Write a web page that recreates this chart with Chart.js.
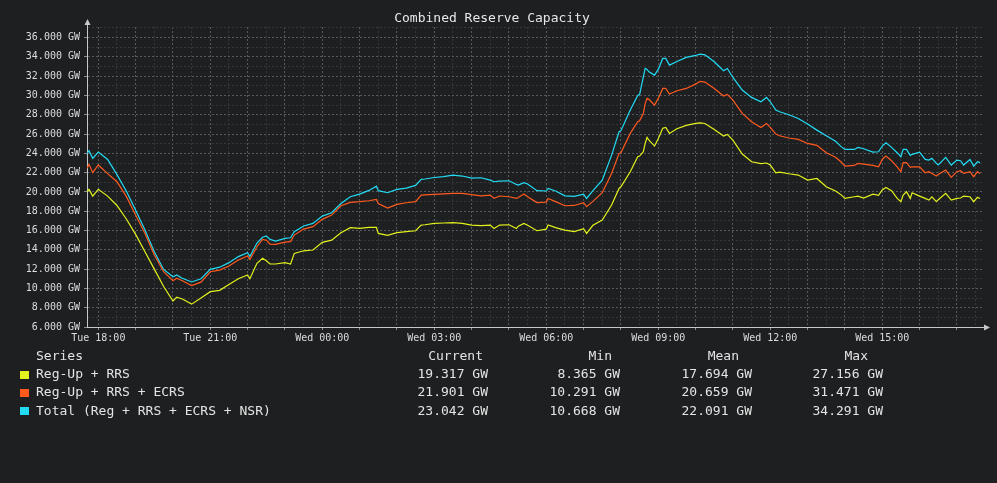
<!DOCTYPE html>
<html>
<head>
<meta charset="utf-8">
<title>Combined Reserve Capacity</title>
<script src="https://cdn.jsdelivr.net/npm/chart.js@4.4.1/dist/chart.umd.min.js"></script>
<style>
  html, body { margin: 0; padding: 0; background: #1e1f21; }
  #wrap { position: relative; width: 997px; height: 483px; overflow: hidden;
          font-family: "DejaVu Sans Mono", monospace; color: #e4e4e4; }
  #chart { position: absolute; left: 0; top: 0; }
  .cell { position: absolute; font-size: 13px; line-height: 18px; white-space: pre; }
  .swatch { position: absolute; width: 9px; height: 8px; }
</style>
</head>
<body>
<div id="wrap">
  <canvas id="chart" width="997" height="483"></canvas>
  <div id="legend"></div>
</div>
<script>
// hours after Tue 18:00
const hours = [
  -0.3, -0.25, -0.15, 0, 0.25, 0.5, 0.75, 1, 1.25, 1.5, 1.75, 2, 2.1, 2.25, 2.5, 2.75, 3, 3.25, 3.5, 3.75,
  4, 4.06, 4.25, 4.4, 4.5, 4.6, 4.75, 5, 5.15, 5.25, 5.5, 5.75, 6, 6.25, 6.5, 6.75, 7, 7.25, 7.45, 7.5,
  7.75, 8, 8.25, 8.5, 8.65, 8.75, 9, 9.25, 9.5, 9.75, 10, 10.25, 10.5, 10.6, 10.75, 11, 11.2, 11.25, 11.4, 11.5,
  11.75, 12, 12.05, 12.25, 12.5, 12.75, 13, 13.08, 13.25, 13.5, 13.75, 13.95, 14, 14.25, 14.45, 14.5, 14.6, 14.65, 14.7, 14.75,
  14.9, 15, 15.12, 15.2, 15.3, 15.5, 15.75, 16, 16.12, 16.25, 16.5, 16.75, 16.85, 17, 17.25, 17.5, 17.75, 17.9, 18, 18.15,
  18.25, 18.5, 18.75, 19, 19.25, 19.5, 19.75, 19.9, 20, 20.25, 20.35, 20.5, 20.75, 20.9, 21, 21.1, 21.25, 21.4, 21.5, 21.56,
  21.65, 21.75, 21.8, 22, 22.15, 22.25, 22.33, 22.45, 22.5, 22.7, 22.85, 23, 23.1, 23.18, 23.35, 23.45, 23.55, 23.62
];

// GW
const regUpRrs = [
  20.0, 20.27, 19.57, 20.27, 19.57, 18.6, 17.2, 15.6, 13.8, 12.0, 10.2, 8.7, 9.08, 8.9, 8.37, 9.0, 9.66, 9.8, 10.4, 11.0,
  11.39, 11.0, 12.6, 13.12, 12.87, 12.53, 12.53, 12.67, 12.53, 13.63, 13.9, 13.98, 14.77, 15.0, 15.78, 16.3, 16.22, 16.33, 16.33, 15.7,
  15.5, 15.78, 15.88, 15.98, 16.57, 16.6, 16.74, 16.78, 16.81, 16.74, 16.57, 16.5, 16.57, 16.22, 16.57, 16.6, 16.22, 16.45, 16.74, 16.55,
  15.98, 16.15, 16.57, 16.3, 16.05, 15.88, 16.19, 15.7, 16.54, 17.09, 18.64, 20.37, 20.54, 22.1, 23.65, 23.72, 24.17, 25.03, 25.65, 25.38,
  24.76, 25.52, 26.6, 26.69, 26.07, 26.55, 26.9, 27.1, 27.16, 27.1, 26.48, 25.79, 25.97, 25.38, 23.93, 23.13, 22.93, 23.0, 22.79, 21.99,
  22.06, 21.89, 21.75, 21.23, 21.4, 20.54, 20.1, 19.7, 19.33, 19.5, 19.57, 19.37, 19.78, 19.64, 20.2, 20.47, 20.13, 19.33, 18.99, 19.68,
  20.02, 19.33, 19.92, 19.57, 19.33, 19.16, 19.5, 18.99, 19.2, 19.85, 19.16, 19.33, 19.37, 19.57, 19.5, 18.99, 19.44, 19.317
];

const regUpRrsEcrs = [
  22.45, 22.86, 22.0, 22.8, 21.9, 21.06, 19.54, 17.6, 15.7, 13.46, 11.73, 10.8, 11.05, 10.8, 10.29, 10.65, 11.73, 11.9, 12.32, 12.94,
  13.36, 13.0, 14.32, 15.08, 15.0, 14.6, 14.57, 14.8, 14.85, 15.53, 16.15, 16.4, 17.16, 17.6, 18.57, 18.92, 18.99, 19.09, 19.23, 18.8,
  18.33, 18.71, 18.88, 18.99, 19.68, 19.7, 19.75, 19.8, 19.85, 19.85, 19.72, 19.6, 19.68, 19.33, 19.58, 19.5, 19.33, 19.43, 19.78, 19.5,
  18.9, 18.95, 19.33, 19.0, 18.57, 18.6, 18.88, 18.47, 19.02, 19.92, 21.92, 24.0, 24.07, 26.07, 27.28, 27.38, 28.14, 29.18, 29.7, 29.6,
  29.0, 29.7, 30.73, 30.73, 30.15, 30.49, 30.73, 31.18, 31.47, 31.39, 30.73, 29.94, 30.11, 29.52, 28.14, 27.28, 26.69, 27.1, 26.69, 26.0,
  25.83, 25.59, 25.45, 25.03, 24.83, 24.07, 23.6, 23.1, 22.68, 22.75, 22.96, 22.89, 22.75, 22.6, 23.37, 23.72, 23.24, 22.6, 22.1, 23.03,
  23.03, 22.55, 22.6, 22.6, 21.99, 22.1, 21.92, 21.65, 21.82, 22.27, 21.51, 22.1, 22.2, 21.92, 22.1, 21.58, 22.1, 21.901
];

const totalReserve = [
  24.0, 24.27, 23.48, 24.13, 23.37, 21.8, 20.1, 18.1, 16.05, 13.8, 11.97, 11.2, 11.4, 11.05, 10.67, 11.0, 11.97, 12.2, 12.67, 13.3,
  13.7, 13.3, 14.7, 15.3, 15.43, 15.08, 14.9, 15.19, 15.25, 15.88, 16.47, 16.74, 17.5, 17.85, 18.8, 19.5, 19.78, 20.16, 20.6, 20.13,
  19.92, 20.27, 20.4, 20.68, 21.3, 21.34, 21.5, 21.58, 21.75, 21.65, 21.44, 21.47, 21.23, 21.06, 21.13, 21.16, 20.78, 20.71, 20.96, 20.82,
  20.13, 20.1, 20.37, 20.1, 19.6, 19.54, 19.78, 19.33, 20.13, 21.23, 23.82, 26.24, 26.35, 28.49, 30.0, 30.1, 31.94, 32.8, 32.7, 32.46,
  32.11, 32.7, 33.84, 33.84, 33.15, 33.53, 33.95, 34.15, 34.29, 34.22, 33.5, 32.56, 32.8, 31.87, 30.56, 29.8, 29.35, 29.8, 29.35, 28.49,
  28.31, 28.0, 27.62, 27.04, 26.41, 25.83, 25.25, 24.7, 24.41, 24.41, 24.62, 24.48, 24.13, 24.17, 24.76, 25.1, 24.62, 24.07, 23.65, 24.41,
  24.41, 23.79, 23.9, 24.13, 23.37, 23.3, 23.48, 22.96, 22.79, 23.58, 22.79, 23.3, 23.24, 22.79, 23.37, 22.68, 23.13, 23.042
];

const seriesNames = ["Reg-Up + RRS", "Reg-Up + RRS + ECRS", "Total (Reg + RRS + ECRS + NSR)"];
const seriesColors = ["#e2f21c", "#ff5a1e", "#22dcf5"];
const statCurrent = [19.317, 21.901, 23.042];
const statMin = [8.365, 10.291, 10.668];
const statMean = [17.694, 20.659, 22.091];
const statMax = [27.156, 31.471, 34.291];

// one label every 3 hours, starting Tue 18:00
const xTickLabels = ["Tue 18:00", "Tue 21:00", "Wed 00:00", "Wed 03:00",
                     "Wed 06:00", "Wed 09:00", "Wed 12:00", "Wed 15:00"];

document.addEventListener("DOMContentLoaded", () => {
  const ctx = document.getElementById("chart").getContext("2d");
  const legend = document.getElementById("legend");

  const textColor = "#dcdcdc";
  const axisColor = "#c8c8c8";
  const gridMajor = "#58595c";
  const gridMinor = "#36373a";
  const tickFont = { family: "DejaVu Sans Mono", size: 10 };

  const seriesValues = [regUpRrs, regUpRrsEcrs, totalReserve];

  // grid every half hour on x, every 1 GW on y
  const xGrid = [];
  for (let h = 0; h <= 23.5; h += 0.5) xGrid.push(h);
  const yGrid = [];
  for (let v = 6; v <= 37; v++) yGrid.push(v);

  // arrow heads on the axes
  const axisArrows = {
    id: "axisArrows",
    afterDraw(chart) {
      const { left, right, top, bottom } = chart.chartArea;
      const c = chart.ctx;
      c.save();
      c.strokeStyle = axisColor;
      c.fillStyle = axisColor;
      c.lineWidth = 1;
      c.beginPath();
      c.moveTo(left + 0.5, top);
      c.lineTo(left + 0.5, top - 3);
      c.stroke();
      c.beginPath();
      c.moveTo(left + 0.5, top - 8);
      c.lineTo(left - 2.5, top - 2);
      c.lineTo(left + 3.5, top - 2);
      c.closePath();
      c.fill();
      c.beginPath();
      c.moveTo(right + 6, bottom + 0.5);
      c.lineTo(right, bottom - 2.5);
      c.lineTo(right, bottom + 3.5);
      c.closePath();
      c.fill();
      c.restore();
    }
  };

  new Chart(ctx, {
    type: "line",
    data: {
      datasets: seriesNames.map((name, i) => ({
        label: name,
        data: hours.map((h, j) => ({ x: h, y: seriesValues[i][j] })),
        borderColor: seriesColors[i],
        borderWidth: 1.2,
        pointRadius: 0,
        tension: 0,
        fill: false
      }))
    },
    options: {
      responsive: false,
      animation: false,
      layout: { padding: { left: 0, right: 13, top: 0, bottom: 136 } },
      plugins: {
        legend: { display: false },
        tooltip: { enabled: false },
        title: {
          display: true,
          text: "Combined Reserve Capacity",
          color: "#e8e8e8",
          font: { family: "DejaVu Sans Mono", size: 13, weight: "normal", lineHeight: 1.2 },
          padding: { top: 11, bottom: 0.4 }
        }
      },
      scales: {
        x: {
          type: "linear",
          min: -0.303,
          max: 23.726,
          afterBuildTicks: scale => { scale.ticks = xGrid.map(v => ({ value: v })); },
          afterFit: scale => { scale.height = 20; },
          ticks: {
            autoSkip: false,
            maxRotation: 0,
            padding: 2,
            color: textColor,
            font: tickFont,
            callback: v => (v % 3 === 0 ? xTickLabels[v / 3] : "")
          },
          grid: {
            color: c => (c.tick && c.tick.value % 1 === 0 ? gridMajor : gridMinor),
            tickColor: c => (c.tick && c.tick.value % 1 === 0 ? "#8a8a8a" : "rgba(0,0,0,0)"),
            tickLength: 3,
            lineWidth: 1
          },
          border: { display: true, color: axisColor, width: 1, dash: [2, 2] }
        },
        y: {
          type: "linear",
          min: 6,
          max: 37.1,
          afterBuildTicks: scale => { scale.ticks = yGrid.map(v => ({ value: v })); },
          afterFit: scale => { scale.width = 87; },
          ticks: {
            autoSkip: false,
            padding: 4,
            color: textColor,
            font: tickFont,
            callback: v => (v % 2 === 0 ? v.toFixed(3) + " GW" : "")
          },
          grid: {
            color: c => (c.tick && c.tick.value % 2 === 0 ? gridMajor : gridMinor),
            tickColor: c => (c.tick && c.tick.value % 2 === 0 ? "#8a8a8a" : "rgba(0,0,0,0)"),
            tickLength: 3,
            lineWidth: 1
          },
          border: { display: true, color: axisColor, width: 1, dash: [2, 2] }
        }
      }
    },
    plugins: [axisArrows]
  });

  // stats table under the plot
  const headerTop = 347;
  const rowTop = 365;
  const rowStep = 18.25;
  const valueRight = [488, 620, 752, 883];
  const headerRight = [483, 612, 739, 868];
  const headers = ["Current", "Min", "Mean", "Max"];

  const addCell = (text, top, opts) => {
    const el = document.createElement("div");
    el.className = "cell";
    el.textContent = text;
    el.style.top = top + "px";
    if (opts.left !== undefined) el.style.left = opts.left + "px";
    if (opts.right !== undefined) el.style.right = (997 - opts.right) + "px";
    legend.appendChild(el);
  };

  addCell("Series", headerTop, { left: 36 });
  headers.forEach((h, k) => addCell(h, headerTop, { right: headerRight[k] }));

  seriesNames.forEach((name, i) => {
    const top = rowTop + i * rowStep;
    const sw = document.createElement("div");
    sw.className = "swatch";
    sw.style.left = "20px";
    sw.style.top = (top + 5.5) + "px";
    sw.style.background = seriesColors[i];
    legend.appendChild(sw);

    addCell(name, top, { left: 36 });
    [statCurrent, statMin, statMean, statMax].forEach((col, k) => {
      addCell(col[i].toFixed(3) + " GW", top, { right: valueRight[k] });
    });
  });
});
</script>
</body>
</html>
